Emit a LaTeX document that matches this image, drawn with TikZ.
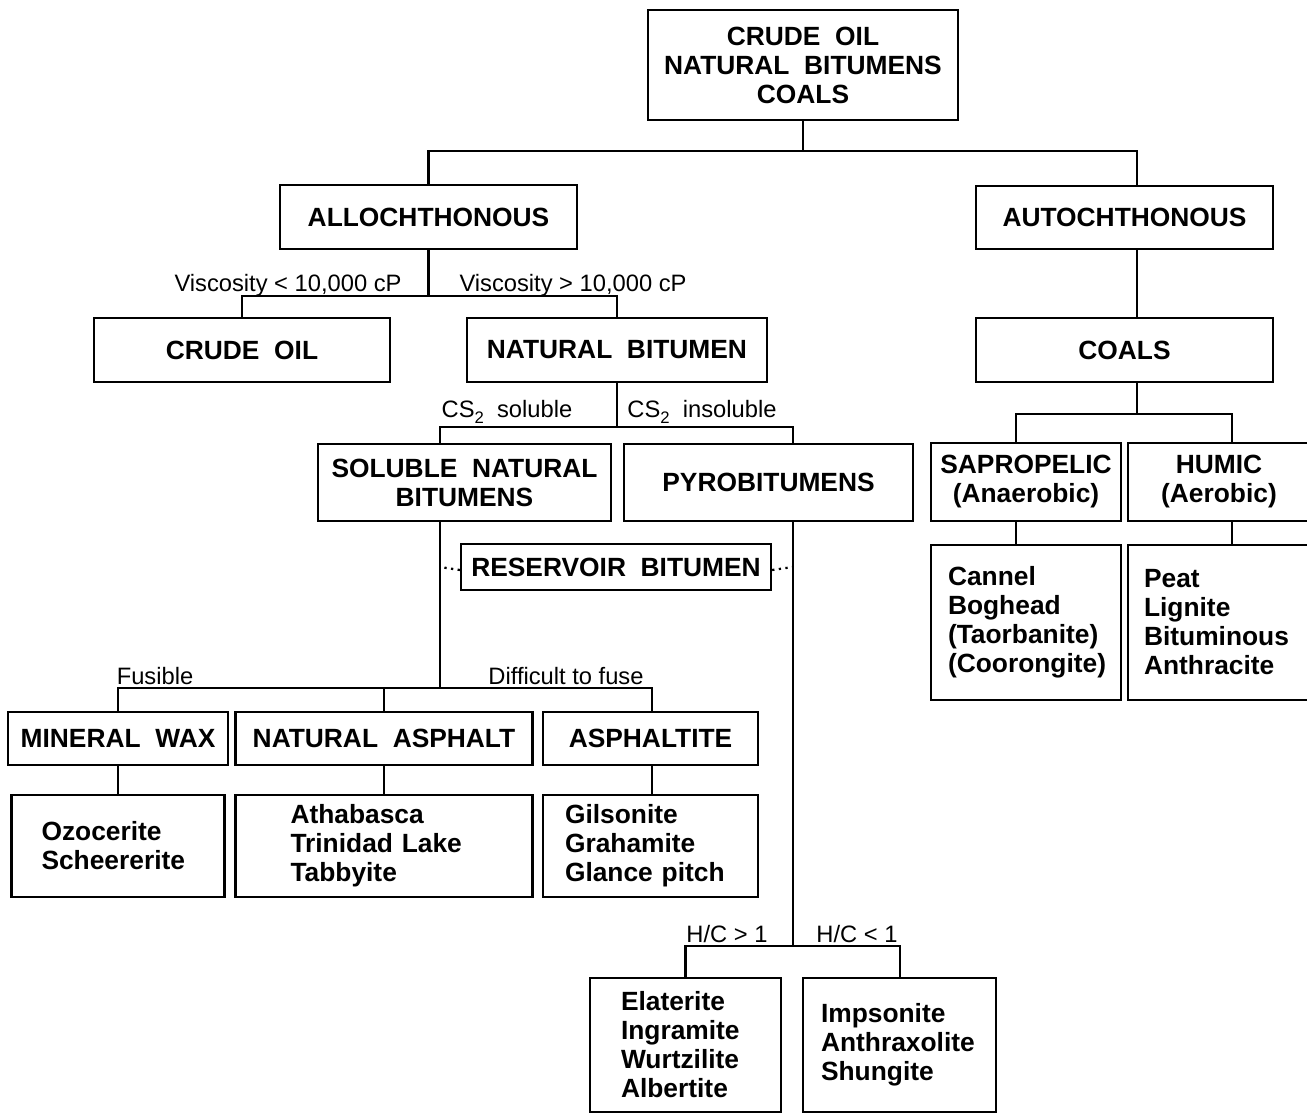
\documentclass[tikz,border=0pt]{standalone}
\usepackage{fontspec}
\setmainfont{Liberation Sans}
\newcommand{\subtwo}{\raisebox{-0.4ex}{\fontsize{9.5}{10}\selectfont 2}}
\begin{document}
\begin{tikzpicture}[x=0.02cm,y=-0.02cm,
  box/.style={draw, line width=1.3pt, font=\fontsize{15}{16.5}\selectfont\bfseries, align=center, inner sep=0pt},
  list/.style={draw, line width=1.3pt, font=\fontsize{15}{16.5}\selectfont\bfseries, align=left, inner ysep=0pt},
  lbl/.style={font=\fontsize{13.5}{15}\selectfont, inner sep=0pt},
  conn/.style={line width=1.6pt},
  dots/.style={line width=1.3pt, dash pattern=on 1.3pt off 2.5pt}]
\useasboundingbox (0,0) rectangle (1307,1114);
\begin{scope}
\clip (0,0) rectangle (1307,1114);
% boxes
\node[box, minimum width=310*0.02cm, minimum height=110*0.02cm] (top) at (803,65) {CRUDE\ \ OIL\\NATURAL\ \ BITUMENS\\COALS};
\node[box, minimum width=297*0.02cm, minimum height=64*0.02cm] (allo) at (428.5,217) {ALLOCHTHONOUS};
\node[box, minimum width=297*0.02cm, minimum height=63*0.02cm] (auto) at (1124.5,217.5) {AUTOCHTHONOUS};
\node[box, minimum width=296*0.02cm, minimum height=64*0.02cm] (crude) at (242,350) {CRUDE\ \ OIL};
\node[box, minimum width=300*0.02cm, minimum height=64*0.02cm] (natbit) at (617,350) {NATURAL\ \ BITUMEN};
\node[box, minimum width=297*0.02cm, minimum height=64*0.02cm] (coals) at (1124.5,350) {COALS};
\node[box, minimum width=293*0.02cm, minimum height=77*0.02cm] (sol) at (464.5,482.5) {SOLUBLE\ \ NATURAL\\BITUMENS};
\node[box, minimum width=289*0.02cm, minimum height=77*0.02cm] (pyro) at (768.5,482.5) {PYROBITUMENS};
\node[box, minimum width=310*0.02cm, minimum height=46*0.02cm] (res) at (616,567) {RESERVOIR\ \ BITUMEN};
\node[box, minimum width=220*0.02cm, minimum height=53*0.02cm] (wax) at (118,738.5) {MINERAL\ \ WAX};
\node[box, minimum width=297*0.02cm, minimum height=53*0.02cm] (asph) at (384,738.5) {NATURAL\ \ ASPHALT};
\node[box, minimum width=215*0.02cm, minimum height=53*0.02cm] (asphite) at (650.5,738.5) {ASPHALTITE};
\node[box, minimum width=190*0.02cm, minimum height=78*0.02cm] (sapro) at (1026,482) {SAPROPELIC\\(Anaerobic)};
\node[box, minimum width=182*0.02cm, minimum height=78*0.02cm] (humic) at (1219,482) {HUMIC\\(Aerobic)};
% lists
\node[list, text width=153*0.02cm, inner xsep=30*0.02cm, minimum height=102*0.02cm] (ozo) at (118,846) {Ozocerite\\Scheererite};
\node[list, text width=187*0.02cm, inner xsep=55*0.02cm, minimum height=102*0.02cm] (atha) at (384,846) {Athabasca\\Trinidad Lake\\Tabbyite};
\node[list, text width=171*0.02cm, inner xsep=22*0.02cm, minimum height=102*0.02cm] (gils) at (650.5,846) {Gilsonite\\Grahamite\\Glance pitch};
\node[list, text width=156*0.02cm, inner xsep=17*0.02cm, minimum height=155*0.02cm] (cannel) at (1026,622.5) {Cannel\\Boghead\\(Taorbanite)\\(Coorongite)};
\node[list, text width=150*0.02cm, inner xsep=16*0.02cm, minimum height=155*0.02cm] (peat) at (1219,622.5) {Peat\\Lignite\\Bituminous\\Anthracite};
\node[list, text width=129*0.02cm, inner xsep=31*0.02cm, minimum height=134*0.02cm] (elat) at (685.5,1045) {Elaterite\\Ingramite\\Wurtzilite\\Albertite};
\node[list, text width=157*0.02cm, inner xsep=18*0.02cm, minimum height=134*0.02cm] (imps) at (899.5,1045) {Impsonite\\Anthraxolite\\Shungite};
% junctions
\coordinate (j1) at (803,151);
\coordinate (j2) at (428.5,296);
\coordinate (j3) at (617,427);
\coordinate (a1) at (440,427);
\coordinate (a2) at (793,427);
\coordinate (b0) at (440,688);
\coordinate (b2) at (384,688);
\coordinate (b3) at (652,688);
\coordinate (c0) at (793,946);
\coordinate (c2) at (900,946);
\coordinate (d0) at (1137,414);
\coordinate (d1) at (1016,414);
\coordinate (d2) at (1232,414);
% connectors
\draw[conn] (top.south) -- (j1);
\draw[conn] (allo.north) |- (j1) -| (auto.north -| d0);
\draw[conn] (allo.south) -- (j2);
\draw[conn] (crude.north) |- (j2) -| (natbit.north);
\draw[conn] (auto.south -| d0) -- (coals.north -| d0);
\draw[conn] (natbit.south) -- (j3);
\draw[conn] (sol.north -| a1) |- (j3) -| (pyro.north -| a2);
\draw[conn] (sol.south -| a1) -- (b0);
\draw[conn] (wax.north) |- (b0) -| (asphite.north -| b3);
\draw[conn] (asph.north) -- (b2);
\draw[conn] (wax.south) -- (ozo.north);
\draw[conn] (asph.south) -- (atha.north);
\draw[conn] (asphite.south -| b3) -- (gils.north -| b3);
\draw[conn] (pyro.south -| a2) -- (c0);
\draw[conn] (elat.north) |- (c0) -| (imps.north -| c2);
\draw[conn] (coals.south -| d0) -- (d0);
\draw[conn] (sapro.north -| d1) |- (d0) -| (humic.north -| d2);
\draw[conn] (sapro.south -| d1) -- (cannel.north -| d1);
\draw[conn] (humic.south -| d2) -- (peat.north -| d2);
\draw[dots] (res.west |- 0,570) -- (res.west -| a1);
\draw[dots] (res.east |- 0,570) -- (res.east -| a2);
% labels
\node[lbl, anchor=base] (l1) at (288,292) {Viscosity < 10,000 cP};
\node[lbl, anchor=base] (l2) at (573,292) {Viscosity > 10,000 cP};
\node[lbl, anchor=base] (l3) at (507,418) {CS\subtwo\ \ soluble};
\node[lbl, anchor=base] (l4) at (702,418) {CS\subtwo\ \ insoluble};
\node[lbl, anchor=base] (l5) at (155,684) {Fusible};
\node[lbl, anchor=base] (l6) at (566,684) {Difficult to fuse};
\node[lbl, anchor=base] (l7) at (727,942) {H/C > 1};
\node[lbl, anchor=base] (l8) at (857,942) {H/C < 1};
\end{scope}
\end{tikzpicture}
\end{document}
